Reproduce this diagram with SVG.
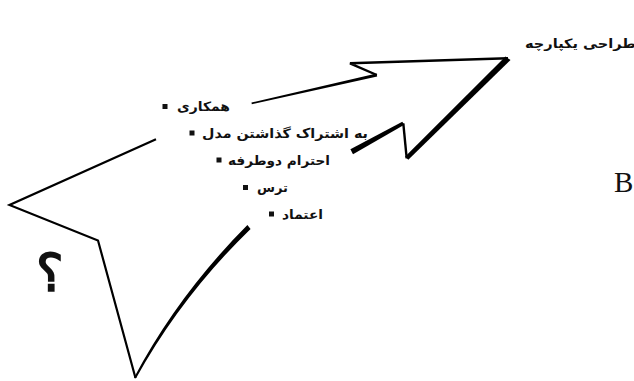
<svg xmlns="http://www.w3.org/2000/svg" width="634" height="381" viewBox="0 0 634 381">
<style>
.ar{font-family:"DejaVu Sans",sans-serif;font-size:13px;font-weight:bold;fill:#111;}
.bl{fill:#111;}
.ln{fill:none;stroke:#000;stroke-linejoin:miter;stroke-linecap:butt;}
.br{fill:#000;}
</style>
<rect width="634" height="381" fill="#fff"/>
<g id="connectors">
<polyline class="ln" stroke-width="2.2" points="156,139.3 9.5,205 98,240.5 135.5,378"/>
<path class="br" d="M134.1,377.5 Q178.5,294 247.4,225.1 L250.6,228.9 Q181.5,296 135.9,378.5 Z"/>
<path class="br" d="M251.5,102.6 L376.5,73.5 L377.2,76.6 L251.8,104.2 Z"/>
<polyline class="ln" stroke-width="2.4" points="376.8,75 350,63.3 508,58.3"/>
<polygon class="br" points="505.5,56.6 510.5,60 408.3,159.8 405,156.8"/>
<polyline class="ln" stroke-width="2.4" points="406.7,158.3 403.3,123.3"/>
<polygon class="br" points="402.3,121.8 404.3,124.8 353,154.2 350.4,149.2"/>
</g>
<g id="node-top">
<text class="ar" x="636" y="47.5" text-anchor="end" textLength="111" lengthAdjust="spacingAndGlyphs">طراحی یکپارچه</text>
</g>
<g id="node-1">
<rect class="bl" x="162.5" y="104" width="5" height="5"/>
<text class="ar" x="230" y="111" text-anchor="end" textLength="53" lengthAdjust="spacingAndGlyphs">همکاری</text>
</g>
<g id="node-2">
<rect class="bl" x="189.5" y="130.5" width="5" height="5"/>
<text class="ar" x="368" y="137.5" text-anchor="end" textLength="166" lengthAdjust="spacingAndGlyphs">به اشتراک گذاشتن مدل</text>
</g>
<g id="node-3">
<rect class="bl" x="216.5" y="157.5" width="5" height="5"/>
<text class="ar" x="330" y="164.5" text-anchor="end" textLength="102" lengthAdjust="spacingAndGlyphs">احترام دوطرفه</text>
</g>
<g id="node-4">
<rect class="bl" x="243" y="185" width="5" height="5"/>
<text class="ar" x="288" y="191.5" text-anchor="end" textLength="31" lengthAdjust="spacingAndGlyphs">ترس</text>
</g>
<g id="node-5">
<rect class="bl" x="269" y="211.5" width="5" height="5"/>
<text class="ar" x="323" y="218.5" text-anchor="end" textLength="41" lengthAdjust="spacingAndGlyphs">اعتماد</text>
</g>
<g id="node-q">
<text x="50" y="291" text-anchor="middle" style="font-family:'DejaVu Serif',serif;font-size:52px;font-weight:bold;fill:#111">؟</text>
</g>
<g id="node-b">
<text x="614" y="192" style="font-family:'Liberation Serif',serif;font-size:29px;fill:#111">B</text>
</g>
</svg>
